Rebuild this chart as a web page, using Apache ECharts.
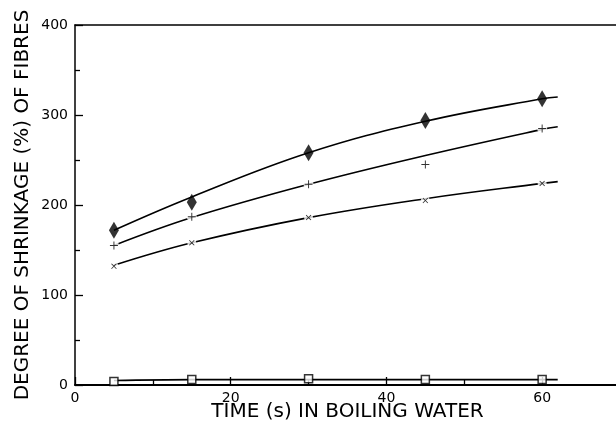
<!DOCTYPE html>
<html>
<head>
<meta charset="utf-8">
<script src="https://cdn.jsdelivr.net/npm/echarts@6/dist/echarts.min.js"></script>
<style>
  html, body { margin: 0; padding: 0; background: #fff; }
  #chart { width: 616px; height: 427px; }
</style>
</head>
<body>
<div id="chart"></div>
<script>
// measured points
const timeS = [5, 15, 30, 45, 60];
const diamondPts = [172, 203, 258, 294, 318];
const plusPts = [155, 187, 223, 245, 285];
const crossPts = [132, 158, 186, 205, 224];
const squarePts = [4, 6, 7, 6, 6];

// fitted curves
const fitX = [5, 15, 30, 45, 60, 62];
const diamondFit = [172, 209, 258, 293, 318, 320];
const plusFit = [155, 186, 223, 255, 284, 287];
const crossFit = [133, 158, 186, 207, 224, 226];
const squareFit = [5, 6, 6, 6, 6, 6];

const xTicks = [0, 20, 40, 60];
const yTicks = [0, 100, 200, 300, 400];

const pair = (xs, ys) => xs.map((x, i) => [x, ys[i]]);
const FONT = 'DejaVu Sans';
const plusPath = 'path://M4.4,0H5.6V4.4H10V5.6H5.6V10H4.4V5.6H0V4.4H4.4Z';

const fitLine = (ys) => ({
    type: 'line',
    data: pair(fitX, ys),
    smooth: 0.4,
    showSymbol: false,
    lineStyle: { color: '#000', width: 1.6 },
    z: 2,
    silent: true
});
// white blob behind a marker, so the line looks broken there
const gap = (ys, size) => ({
    type: 'scatter',
    data: pair(timeS, ys),
    symbol: 'circle',
    symbolSize: size,
    itemStyle: { color: '#fff' },
    z: 3,
    silent: true
});

const chart = echarts.init(document.getElementById('chart'));
chart.setOption({
    animation: false,
    backgroundColor: '#fff',
    grid: { left: 75, top: 25, width: 545, bottom: 42, outerBoundsMode: 'none', containLabel: false },
    xAxis: [{
        type: 'value',
        min: 0,
        max: 70,
        interval: 20,
        name: 'TIME (s) IN BOILING WATER',
        nameLocation: 'middle',
        nameGap: 17,
        nameMoveOverlap: false,
        nameTextStyle: { fontFamily: FONT, fontSize: 20, color: '#000' },
        axisLine: { lineStyle: { color: '#000', width: 2 } },
        axisTick: { inside: true, length: 8, lineStyle: { color: '#000', width: 1.3 } },
        minorTick: { show: true, splitNumber: 2, length: 5, lineStyle: { color: '#000', width: 1.3 } },
        axisLabel: {
            margin: 6,
            fontFamily: FONT, fontSize: 14, color: '#000',
            formatter: v => xTicks.includes(v) ? String(v) : ''
        },
        splitLine: { show: false }
    }, {
        type: 'value',
        position: 'top',
        min: 0,
        max: 70,
        axisLine: { show: true, onZero: false, lineStyle: { color: '#000', width: 1.5 } },
        axisTick: { show: false },
        axisLabel: { show: false },
        splitLine: { show: false }
    }],
    yAxis: {
        type: 'value',
        min: 0,
        max: 400,
        interval: 100,
        name: 'DEGREE OF SHRINKAGE (%) OF FIBRES',
        nameLocation: 'middle',
        nameGap: 42,
        nameMoveOverlap: false,
        nameTextStyle: { fontFamily: FONT, fontSize: 20, color: '#000' },
        axisLine: { show: true, lineStyle: { color: '#000', width: 1.5 } },
        axisTick: { inside: true, length: 8, lineStyle: { color: '#000', width: 1.3 } },
        minorTick: { show: true, splitNumber: 2, length: 5, lineStyle: { color: '#000', width: 1.3 } },
        axisLabel: {
            margin: 7,
            fontFamily: FONT, fontSize: 14, color: '#000',
            formatter: v => yTicks.includes(v) ? String(v) : ''
        },
        splitLine: { show: false }
    },
    series: [
        fitLine(diamondFit),
        fitLine(plusFit),
        fitLine(crossFit),
        fitLine(squareFit),
        gap(plusPts, 10),
        gap(crossPts, 9),
        {
            type: 'scatter',
            data: pair(timeS, diamondPts),
            symbol: 'diamond',
            symbolSize: [10, 17],
            itemStyle: { color: '#000' },
            z: 4
        },
        {
            type: 'scatter',
            data: pair(timeS, plusPts),
            symbol: plusPath,
            symbolSize: 8,
            itemStyle: { color: '#000' },
            z: 4
        },
        {
            type: 'scatter',
            data: pair(timeS, crossPts),
            symbol: plusPath,
            symbolRotate: 45,
            symbolSize: 7,
            itemStyle: { color: '#000' },
            z: 4
        },
        {
            type: 'scatter',
            data: pair(timeS, squarePts),
            symbol: 'rect',
            symbolSize: 8,
            itemStyle: { color: '#fff', borderColor: '#000', borderWidth: 1.5 },
            z: 4
        }
    ]
});
</script>
</body>
</html>
